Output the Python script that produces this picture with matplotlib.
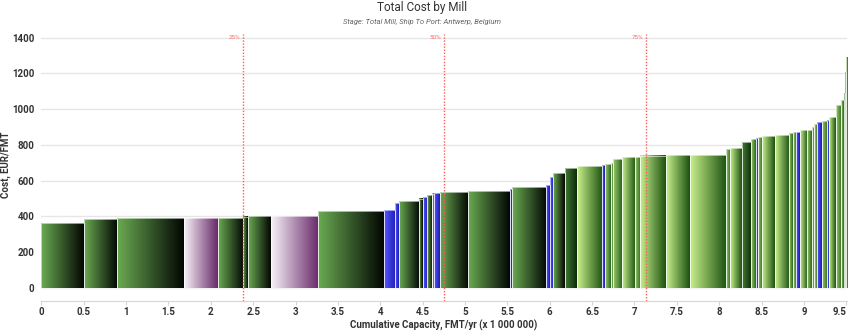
import numpy as np
import matplotlib.pyplot as plt
from matplotlib.colors import LinearSegmentedColormap
from matplotlib.patches import Rectangle

plt.rcParams['font.family'] = ['Roboto', 'DejaVu Sans']

# mill capacity (Mt/yr), cost (EUR/FMT) and colour group, sorted by cost
capacity = [0.505, 0.392, 0.783, 0.40, 0.305, 0.055, 0.27, 0.56, 0.77, 0.14,
            0.04, 0.24, 0.04, 0.05, 0.06, 0.02, 0.07, 0.34, 0.49, 0.02,
            0.41, 0.04, 0.04, 0.14, 0.14, 0.30, 0.03, 0.07, 0.03, 0.10,
            0.16, 0.06, 0.30, 0.28, 0.43, 0.05, 0.14, 0.11, 0.05, 0.03,
            0.05, 0.15, 0.17, 0.04, 0.04, 0.04, 0.09, 0.05, 0.025, 0.045,
            0.05, 0.06, 0.03, 0.08, 0.06, 0.03, 0.015, 0.012, 0.013]
cost = [360, 385, 389, 390, 392, 398, 401, 401, 431, 435,
        476, 484, 499, 506, 521, 527, 529, 536, 540, 551,
        562, 574, 618, 644, 672, 682, 686, 693, 700, 721,
        732, 734, 740, 743, 743, 775, 784, 814, 833, 840,
        844, 850, 857, 868, 872, 872, 883, 883, 902, 917,
        928, 935, 939, 958, 1023, 1051, 1092, 1210, 1294]
group = ['G', 'G', 'G', 'P', 'G', 'G', 'G', 'P', 'G', 'B',
         'B', 'G', 'G', 'B', 'G', 'P', 'B', 'G', 'G', 'B',
         'G', 'B', 'B', 'G', 'D', 'L', 'B', 'M', 'M', 'M',
         'L', 'M', 'L', 'L', 'L', 'M', 'L', 'D', 'M', 'B',
         'M', 'L', 'L', 'M', 'M', 'B', 'L', 'M', 'M', 'L',
         'B', 'M', 'B', 'L', 'M', 'M', 'D', 'B', 'M']
percentiles = [25, 50, 75]

shades = {
    'G': ('#6aaa52', '#030703'),
    'P': ('#f6f1f7', '#6a2a6a'),
    'B': ('#5858ff', '#1c1cb8'),
    'L': ('#c8f08c', '#1c5210'),
    'M': ('#9ccc6a', '#2c6620'),
    'D': ('#447a34', '#0c2a08'),
}

left = np.concatenate([[0], np.cumsum(capacity)[:-1]])
total = float(np.sum(capacity))

fig = plt.figure(figsize=(8.5, 3.32), dpi=100)
ax = fig.add_axes([0.0486, 0.0934, 0.948, 0.8036])

ramp = np.linspace(0, 1, 64).reshape(1, -1)
for x0, w, c, g in zip(left, capacity, cost, group):
    cmap = LinearSegmentedColormap.from_list(g, shades[g])
    ax.imshow(ramp, cmap=cmap, extent=[x0, x0 + w, 0, c], aspect='auto',
              interpolation='bilinear', zorder=2)
    ax.add_patch(Rectangle((x0, 0), w, c, fill=False, edgecolor='white',
                           lw=0.4, zorder=3))

for p in percentiles:
    xv = total * p / 100
    ax.axvline(xv, color='#ff5c5c', ls=(0, (1, 1.2)), lw=1, zorder=4)
    ax.text(xv - 0.03, 1400, f'{p}%', ha='right', va='center', fontsize=4.5,
            color='#ff6b6b', zorder=5)

ax.set_xlim(0, total)
ax.set_ylim(-75, 1420)
ax.set_yticks(np.arange(0, 1401, 200))
xt = np.arange(0, 9.51, 0.5)
ax.set_xticks(xt)
ax.set_xticklabels([f'{v:g}' for v in xt])
ax.grid(axis='y', color='#e6e6e6', lw=1, zorder=0)
ax.set_axisbelow(True)

for s in ['left', 'right', 'top']:
    ax.spines[s].set_visible(False)
ax.spines['bottom'].set_color('#ccd6eb')
ax.tick_params(axis='y', length=0, pad=5, labelsize=7, labelcolor='#333333')
ax.tick_params(axis='x', length=3, color='#ccd6eb', pad=1.5, labelsize=7,
               labelcolor='#333333')
for lab in ax.get_xticklabels() + ax.get_yticklabels():
    lab.set_fontweight('bold')
ax.get_xticklabels()[-1].set_horizontalalignment('right')

fig.text(444 / 850, 1 - 325 / 332, 'Cumulative Capacity, FMT/yr (x 1 000 000)',
         ha='center', va='center', fontsize=7, fontweight='bold', color='#333333')
fig.text(6 / 850, 1 - 165 / 332, 'Cost, EUR/FMT', rotation=90, ha='center',
         va='center', fontsize=7, fontweight='bold', color='#333333')

fig.text(0.496, 1 - 8 / 332, 'Total Cost by Mill', ha='center', va='center',
         fontsize=8.5, color='#333333')
fig.text(0.496, 1 - 22 / 332, 'Stage: Total Mill, Ship To Port: Antwerp, Belgium',
         ha='center', va='center', fontsize=5.5, style='italic', color='#666666')

fig.savefig('out.png', dpi=100)
